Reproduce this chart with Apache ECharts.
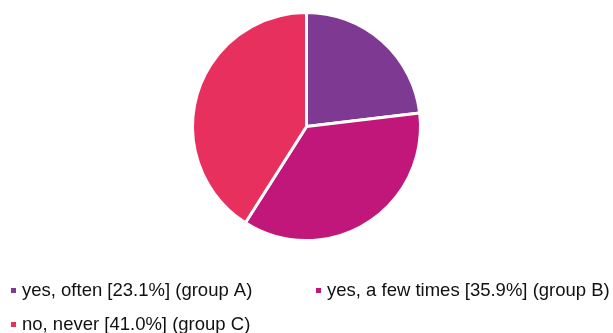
<!DOCTYPE html>
<html>
<head>
<meta charset="utf-8">
<script src="https://cdn.jsdelivr.net/npm/echarts@6/dist/echarts.min.js"></script>
<style>
  html, body { margin: 0; padding: 0; background: #fff; }
  #chart { width: 613px; height: 333px; }
</style>
</head>
<body>
<div id="chart"></div>
<script>
// Survey answers, shares in percent
const answers = ['yes, often', 'yes, a few times', 'no, never'];
const groups = ['group A', 'group B', 'group C'];
const shares = [23.1, 35.9, 41.0];
const colors = ['#7E3A92', '#C2177A', '#E8305E'];

const labelOf = i => answers[i] + ' [' + shares[i].toFixed(1) + '%] (' + groups[i] + ')';
const names = answers.map((_, i) => labelOf(i));

// legend slot for each answer: [left, top]
const legendSlots = [[11, 280.5], [316, 280.5], [11, 314.5]];

const chart = echarts.init(document.getElementById('chart'), null, { renderer: 'canvas' });

const legendText = {
  fontFamily: 'Arial, "Liberation Sans", sans-serif',
  fontSize: 18.5,
  lineHeight: 20,
  color: '#111111',
  padding: [0, 0, 0, 1]
};

chart.setOption({
  animation: false,
  color: colors,
  legend: names.map((n, i) => ({
    orient: 'horizontal',
    left: legendSlots[i][0],
    top: legendSlots[i][1],
    itemWidth: 5,
    itemHeight: 5,
    icon: 'rect',
    itemStyle: { borderWidth: 0 },
    data: [n],
    textStyle: legendText,
    padding: 0
  })),
  series: [{
    type: 'pie',
    center: [306.5, 126.5],
    radius: [0, 114],
    startAngle: 90,
    clockwise: true,
    label: { show: false },
    labelLine: { show: false },
    itemStyle: { borderColor: '#fff', borderWidth: 3 },
    emphasis: { disabled: true },
    data: names.map((n, i) => ({ name: n, value: shares[i] }))
  }]
});
</script>
</body>
</html>
